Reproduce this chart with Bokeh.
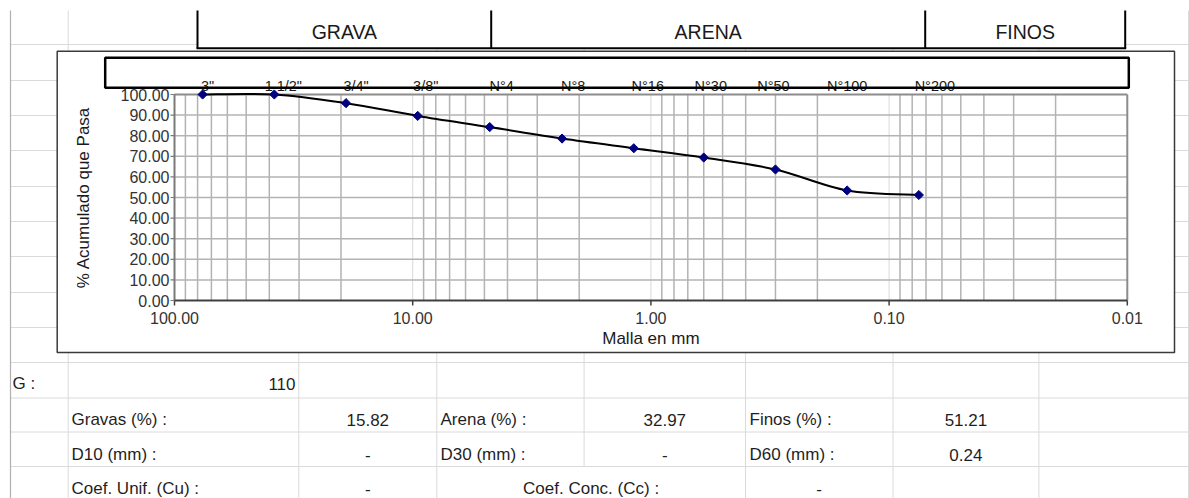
import math
from bokeh.plotting import figure
from bokeh.models import Range1d, LogScale
from bokeh.core.properties import value
from bokeh.embed import file_html
from bokeh.resources import INLINE

# ---------------- data ----------------
sieve_names = ['3"', '1 1/2"', '3/4"', '3/8"', "N°4", "N°8", "N°16", "N°30", "N°50", "N°100", "N°200"]
sieve_mm = [76.2, 38.1, 19.05, 9.525, 4.75, 2.36, 1.18, 0.60, 0.30, 0.15, 0.075]
pct_passing = [100.0, 100.0, 95.8, 89.6, 84.18, 78.6, 73.9, 69.4, 63.6, 53.4, 51.21]
x_ticks = [100, 10, 1, 0.1, 0.01]
y_ticks = [0, 10, 20, 30, 40, 50, 60, 70, 80, 90, 100]
zones = ["GRAVA", "ARENA", "FINOS"]
g_label = "G :"
g_value = "110"
res_labels_1 = ["Gravas (%) :", "D10 (mm) :", "Coef. Unif. (Cu) :"]
res_values_1 = ["15.82", "-", "-"]
res_labels_2 = ["Arena (%) :", "D30 (mm) :"]
res_values_2 = ["32.97", "-"]
res_labels_3 = ["Finos (%) :", "D60 (mm) :"]
res_values_3 = ["51.21", "0.24"]
cc_label = "Coef. Conc. (Cc) :"
cc_value = "-"

# ---------------- layout (pixels) ----------------
W, H, OFF = 1189, 498, 0
X100, PXDEC = 174.0, 238.2      # pixel of 100 mm, pixels per decade
Y0, Y100 = 300.0, 94.0          # pixel of 0 % and 100 %
F = "Liberation Sans"
label_dx = [5, 9, 10, 8, 12, 11, 14, 7, -2, 0, 16]

p = figure(width=W, height=H, x_range=Range1d(OFF, OFF + W), y_range=Range1d(OFF + H, OFF),
           output_backend="svg", toolbar_location=None, x_axis_type=None, y_axis_type=None,
           min_border=0, outline_line_color=None, background_fill_color="white",
           border_fill_color="white")
lg_left = 2 + (X100 - OFF) / PXDEC
lg_right = 2 - (OFF + W - X100) / PXDEC
ppu = (Y0 - Y100) / 100.0
p.extra_x_ranges = {"mm": Range1d(10 ** lg_left, 10 ** lg_right)}
p.extra_x_scales = {"mm": LogScale()}
p.extra_y_ranges = {"pct": Range1d(-(OFF + H - Y0) / ppu, 100 + (Y100 - OFF) / ppu)}
C = dict(x_range_name="mm", y_range_name="pct")

# ---------------- spreadsheet grid ----------------
cols = [67.7, 298.3, 436.3, 745, 892.5, 1038.4, 1188]
rows = [44, 80, 115, 150, 186, 221, 256, 292, 327, 362, 397.5, 431.5, 466]
p.segment(x0=cols, x1=cols, y0=[10] * len(cols), y1=[498] * len(cols), line_color="#dadada", line_width=1)
p.segment(x0=[583.6], x1=[583.6], y0=[10], y1=[466], line_color="#dadada", line_width=1)
p.segment(x0=[10] * len(rows), x1=[1189] * len(rows), y0=rows, y1=rows, line_color="#dadada", line_width=1)
p.segment(x0=[10], x1=[10], y0=[10], y1=[498], line_color="#b0b0b0", line_width=1.2)

# header (zones)
zx = [197, 490.7, 924.7, 1124.7]
p.quad(left=[197], right=[1124.7], top=[8], bottom=[47.7], fill_color="white", line_color=None)
p.segment(x0=zx, x1=zx, y0=[10] * 4, y1=[47.7] * 4, line_color="black", line_width=2)
p.segment(x0=[196], x1=[1125.7], y0=[47.7], y1=[47.7], line_color="black", line_width=2)
p.text(x=[(zx[i] + zx[i + 1]) / 2 for i in range(3)], y=[31] * 3, text=zones,
       text_font=value(F), text_font_size=value("19.5px"), text_color="#1a1a1a",
       text_align="center", text_baseline="middle")

# chart outer box
p.quad(left=[56.7], right=[1174], top=[50.7], bottom=[352], fill_color="white",
       line_color="#3a3a3a", line_width=1.5)

# ---------------- plot area ----------------
minor = [k * 10 ** e for e in (1, 0, -1, -2) for k in range(2, 10)]
major_inner = [10, 1, 0.1]
p.segment(x0=major_inner, x1=major_inner, y0=[0] * 3, y1=[100] * 3, line_color="#d9d9d9", line_width=1, **C)
p.segment(x0=minor, x1=minor, y0=[0] * len(minor), y1=[100] * len(minor), line_color="#b3b3b3", line_width=1.5, **C)
hy = y_ticks[1:-1]
p.segment(x0=[100] * len(hy), x1=[0.01] * len(hy), y0=hy, y1=hy, line_color="#b3b3b3", line_width=1.5, **C)
# border top / right
p.segment(x0=[100, 0.01], x1=[0.01, 0.01], y0=[100, 0], y1=[100, 100], line_color="#8c8c8c", line_width=2, **C)
# axes
p.segment(x0=[100], x1=[100], y0=[0], y1=[100], line_color="#7a7a7a", line_width=2, **C)
p.segment(x0=[100], x1=[0.01], y0=[0], y1=[0], line_color="#404040", line_width=2, **C)
tl = 5 / ppu
p.segment(x0=x_ticks, x1=x_ticks, y0=[0] * 5, y1=[-tl] * 5, line_color="#404040", line_width=1.5, **C)
p.segment(x0=[X100 - 4] * len(y_ticks), x1=[X100] * len(y_ticks), y0=y_ticks, y1=y_ticks,
          line_color="#7a7a7a", line_width=1.2, y_range_name="pct")

# tick labels
p.text(x=x_ticks, y=[0] * 5, text=[f"{v:.2f}" for v in x_ticks], y_offset=17,
       text_font=value(F), text_font_size=value("16px"), text_color="#333333",
       text_align="center", text_baseline="middle", **C)
p.text(x=[100] * len(y_ticks), y=y_ticks, text=[f"{v:.2f}" for v in y_ticks], x_offset=-5,
       text_font=value(F), text_font_size=value("16px"), text_color="#333333",
       text_align="right", text_baseline="middle", **C)
# axis titles
p.text(x=[1], y=[0], text=["Malla en mm"], y_offset=38, text_font=value(F),
       text_font_size=value("17px"), text_color="#1a1a1a", text_align="center",
       text_baseline="middle", **C)
p.text(x=[83], y=[50], text=["% Acumulado que Pasa"], angle=math.pi / 2, text_font=value(F),
       text_font_size=value("17px"), text_color="#1a1a1a", text_align="center",
       text_baseline="middle", y_range_name="pct")

# curve (smoothed, Catmull-Rom -> Bezier in log space)
lx = [math.log10(v) for v in sieve_mm]
n = len(lx)
x0s, y0s, x1s, y1s, cx0, cy0, cx1, cy1 = [], [], [], [], [], [], [], []
for i in range(n - 1):
    a = max(i - 1, 0)
    d = min(i + 2, n - 1)
    c1x = lx[i] + (lx[i + 1] - lx[a]) / 6
    c1y = pct_passing[i] + (pct_passing[i + 1] - pct_passing[a]) / 6
    c2x = lx[i + 1] - (lx[d] - lx[i]) / 6
    c2y = pct_passing[i + 1] - (pct_passing[d] - pct_passing[i]) / 6
    x0s.append(sieve_mm[i]); y0s.append(pct_passing[i])
    x1s.append(sieve_mm[i + 1]); y1s.append(pct_passing[i + 1])
    cx0.append(10 ** c1x); cy0.append(c1y); cx1.append(10 ** c2x); cy1.append(c2y)
p.bezier(x0=x0s, y0=y0s, x1=x1s, y1=y1s, cx0=cx0, cy0=cy0, cx1=cx1, cy1=cy1,
         line_color="black", line_width=2, **C)
p.scatter(x=sieve_mm, y=pct_passing, marker="square", angle=math.pi / 4, size=6.5,
          fill_color="#000080", line_color="#000080", **C)

# sieve label box
p.quad(left=[104.7], right=[1128.3], top=[57.3], bottom=[87.3], fill_color="white", line_color=None)
p.text(x=sieve_mm, y=[85] * n, text=sieve_names, x_offset=label_dx, text_font=value(F),
       text_font_size=value("14.5px"), text_color="#1a1a1a", text_align="center",
       text_baseline="middle", x_range_name="mm")
p.quad(left=[104.7], right=[1128.3], top=[57.3], bottom=[87.3], fill_color=None,
       line_color="black", line_width=2.5)

# ---------------- results table ----------------
TS = dict(text_font=value(F), text_font_size=value("17px"), text_color="#1f1f1f", text_baseline="middle")
ry = [419, 454, 488]
p.text(x=[12], y=[383], text=[g_label], text_align="left", **TS)
p.text(x=[295], y=[383], text=[g_value], text_align="right", **TS)
p.text(x=[71] * 3, y=ry, text=res_labels_1, text_align="left", **TS)
p.text(x=[367.3] * 3, y=ry, text=res_values_1, text_align="center", **TS)
p.text(x=[440] * 2, y=ry[:2], text=res_labels_2, text_align="left", **TS)
p.text(x=[664.3] * 2, y=ry[:2], text=res_values_2, text_align="center", **TS)
p.text(x=[749] * 2, y=ry[:2], text=res_labels_3, text_align="left", **TS)
p.text(x=[965.4] * 2, y=ry[:2], text=res_values_3, text_align="center", **TS)
p.text(x=[590.6], y=[ry[2]], text=[cc_label], text_align="center", **TS)
p.text(x=[818.7], y=[ry[2]], text=[cc_value], text_align="center", **TS)

open("out.html", "w").write(file_html(p, INLINE))
